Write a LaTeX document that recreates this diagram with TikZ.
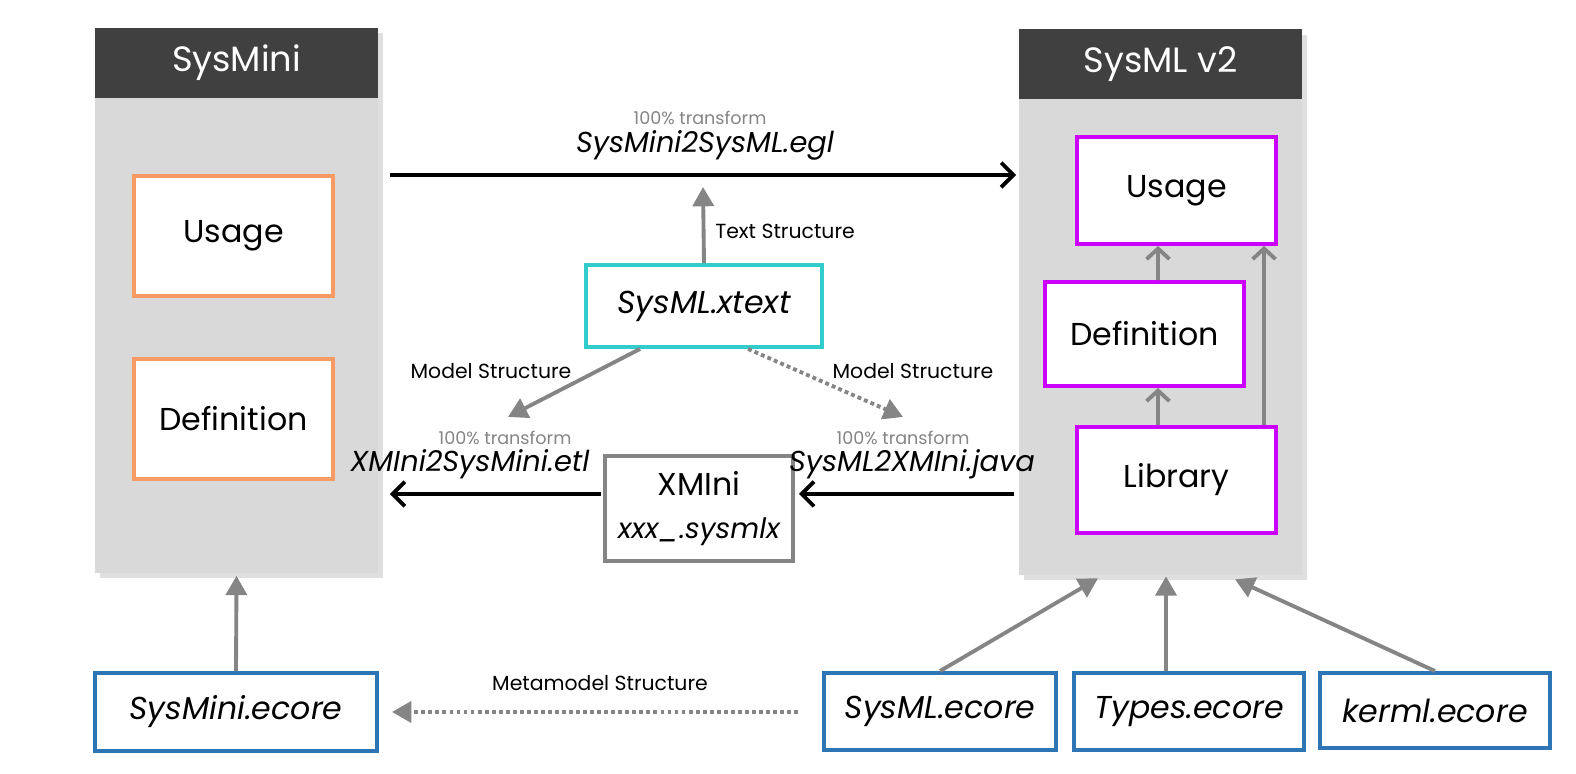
\documentclass[tikz,border=0pt]{standalone}
\usepackage{fontspec}
\setmainfont{Poppins}
\usetikzlibrary{arrows.meta,shadows}
\definecolor{hdrgray}{HTML}{404040}
\definecolor{panelgray}{HTML}{D9D9D9}
\definecolor{arrgray}{HTML}{858585}
\definecolor{orangeb}{HTML}{F79A63}
\definecolor{magentab}{HTML}{CC00FF}
\definecolor{tealb}{HTML}{33CCCC}
\definecolor{blueb}{HTML}{2E75B6}

\begin{document}
\begin{tikzpicture}[x=0.01cm,y=-0.01cm,
  panel/.style={fill=panelgray,minimum width=2.83cm,minimum height=5.45cm,inner sep=0pt,
    drop shadow={shadow xshift=1.5pt,shadow yshift=-1.5pt,opacity=0.25}},
  header/.style={fill=hdrgray,text=white,minimum width=2.83cm,minimum height=0.7cm,inner sep=0pt,
    font=\fontsize{10}{12}\selectfont},
  elem/.style={draw=#1,fill=white,line width=1.1pt,inner sep=0pt,font=\fontsize{9}{11}\selectfont},
  file/.style={draw=#1,fill=white,line width=1.1pt,inner sep=0pt,font=\fontsize{9}{11}\selectfont\itshape},
  small/.style={font=\fontsize{5.8}{7}\selectfont},
  tiny/.style={text=arrgray,font=\fontsize{5}{6}\selectfont},
  fname/.style={font=\fontsize{8.2}{10}\selectfont\itshape},
  blackarr/.style={line width=1.1pt,-{Straight Barb[length=3.5pt,width=7pt]}},
  chevron/.style={arrgray,line width=1.1pt,-{Straight Barb[length=3pt,width=6.5pt]}},
  grayarr/.style={arrgray,line width=1.1pt,-{Triangle[length=5.5pt,width=6pt]}},
  dotarr/.style={arrgray,line width=1.1pt,dash pattern=on 1.1pt off 0.9pt,-{Triangle[length=5.5pt,width=6pt]}}]
  \useasboundingbox (0,0) rectangle (1576,774);

  % the two languages
  \node[panel] (mini) at (236.5,300.5) {};
  \node[header,anchor=north] (minihdr) at (mini.north) {SysMini};
  \node[panel] (sml) at (1160.5,302) {};
  \node[header,anchor=north] (smlhdr) at (sml.north) {SysML v2};

  \node[elem=orangeb,minimum width=1.99cm,minimum height=1.2cm] (mUsage) at (233.5,236) {Usage};
  \node[elem=orangeb,minimum width=1.99cm,minimum height=1.2cm] (mDef) at (233.5,419) {Definition};

  \node[elem=magentab,minimum width=1.99cm,minimum height=1.07cm] (sUsage) at (1176.5,190.5) {Usage};
  \node[elem=magentab,minimum width=1.99cm,minimum height=1.04cm] (sDef) at (1144.5,334) {Definition};
  \node[elem=magentab,minimum width=1.99cm,minimum height=1.06cm] (sLib) at (1176.5,480) {Library};

  % inside SysML v2
  \draw[chevron] ([xshift=0.135cm]sDef.north) -- ([xshift=-0.185cm]sUsage.south);
  \draw[chevron] ([xshift=-0.185cm]sLib.north) -- ([xshift=0.135cm]sDef.south);
  \draw[chevron] ([xshift=0.875cm]sLib.north) -- ([xshift=0.875cm]sUsage.south);

  % grammar and exchange format
  \node[file=tealb,minimum width=2.36cm,minimum height=0.82cm] (xtext) at (704,306) {SysML.xtext};
  \node[draw=arrgray,fill=white,line width=1.1pt,inner sep=0pt,minimum width=1.88cm,minimum height=1.05cm,
    align=center,font=\fontsize{9}{11}\selectfont] (xmini) at (699,508.5)
    {XMIni\\[1pt]{\itshape\fontsize{8}{10}\selectfont xxx\_.sysmlx}};

  \draw[blackarr] ([shift={(11,-125.5)}]mini.east) -- ([shift={(-2,-127)}]sml.west);
  \node[tiny] (t1) at (700,118) {100\% transform};
  \node[fname] (egl) at (705,145) {SysMini2SysML.egl};

  \coordinate (tsend) at (703,187);
  \draw[grayarr] (xtext.north) -- (tsend);
  \node[small] (ts) at (785,231) {Text Structure};

  \coordinate (msleft) at (508,417);
  \coordinate (msright) at (903,417);
  \draw[grayarr] ([xshift=0.56cm]xtext.south west) -- (msleft);
  \draw[dotarr] ([xshift=1.64cm]xtext.south west) -- (msright);
  \node[small] (ms1) at (491,371) {Model Structure};
  \node[small] (ms2) at (913,371) {Model Structure};

  \draw[blackarr] ([shift={(-2,-14.5)}]xmini.west) -- ([shift={(11,193.5)}]mini.east);
  \draw[blackarr] ([shift={(-4,192)}]sml.west) -- ([shift={(4,-14.5)}]xmini.east);
  \node[tiny] (t2) at (505,438) {100\% transform};
  \node[fname] (etl) at (470,464) {XMIni2SysMini.etl};
  \node[tiny] (t3) at (903,438) {100\% transform};
  \node[fname] (java) at (912,464) {SysML2XMIni.java};

  % metamodels
  \node[file=blueb,minimum width=2.82cm,minimum height=0.78cm] (smecore) at (236,712) {SysMini.ecore};
  \node[file=blueb,minimum width=2.32cm,minimum height=0.77cm] (slecore) at (940,711.5) {SysML.ecore};
  \node[file=blueb,minimum width=2.30cm,minimum height=0.77cm] (tyecore) at (1189,711.5) {Types.ecore};
  \node[file=blueb,minimum width=2.30cm,minimum height=0.75cm] (kmecore) at (1435,710.5) {kerml.ecore};

  \draw[grayarr] (smecore.north) -- ([yshift=-0.02cm]mini.south);
  \draw[grayarr] (slecore.north) -- ([shift={(-62.5,3)}]sml.south);
  \draw[grayarr] ([xshift=-0.23cm]tyecore.north) -- ([shift={(5.5,1)}]sml.south);
  \draw[grayarr] (kmecore.north) -- ([shift={(74.5,4)}]sml.south);

  \draw[dotarr] ([shift={(-24,0.5)}]slecore.west) -- ([shift={(13,0)}]smecore.east);
  \node[small] (mms) at (600,683) {Metamodel Structure};
\end{tikzpicture}
\end{document}
